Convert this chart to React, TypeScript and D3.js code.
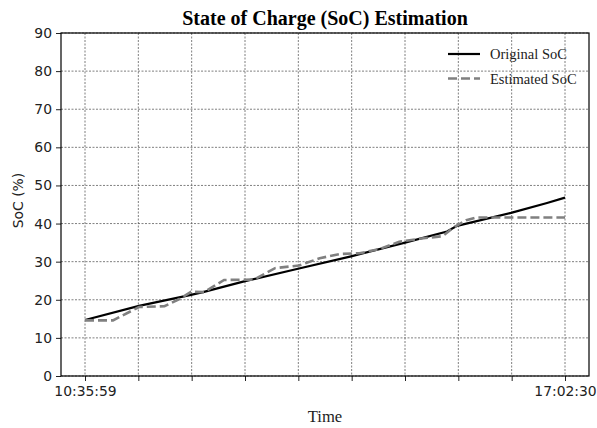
import React, { useEffect, useRef } from 'react';
import * as d3 from 'd3';

const day = '2024-01-01T';
const startTime = '10:35:59';
const endTime = '17:02:30';

// original SoC readings (time, %)
const originalTimes = ['10:35:59', '11:19:28', '12:01:21', '12:11:01', '12:44:50', '13:28:19', '14:10:12', '14:53:41', '15:27:31', '15:35:34', '16:19:03', '16:48:02', '17:02:30'];
const originalSoc = [14.7, 18.4, 21.3, 22.0, 24.9, 28.2, 31.4, 35.0, 37.9, 39.4, 42.8, 45.4, 46.8];

// estimated SoC (time, %)
const estimatedTimes = ['10:35:59', '10:58:32', '11:19:28', '11:40:00', '11:52:00', '12:01:21', '12:12:00', '12:28:00', '12:52:00', '13:09:00', '13:28:19', '13:45:00', '14:01:00', '14:17:00', '14:33:00', '14:49:00', '15:05:00', '15:24:00', '15:32:00', '15:43:00', '15:51:00', '17:02:30'];
const estimatedSoc = [14.6, 14.6, 18.1, 18.3, 20.2, 22.1, 22.0, 25.2, 25.3, 28.3, 29.0, 30.9, 32.0, 32.2, 33.3, 35.2, 36.0, 36.7, 38.8, 40.9, 41.6, 41.6];

const yTicks = [0, 10, 20, 30, 40, 50, 60, 70, 80, 90];
const xTickCount = 10;

const parse = (s: string) => new Date(day + s);

export default function App() {
  const ref = useRef<SVGSVGElement>(null);

  useEffect(() => {
    const width = 597;
    const height = 428;
    const margin = { top: 33, left: 61, bottom: 52, right: 8 };
    const iwidth = width - margin.left - margin.right;
    const iheight = height - margin.top - margin.bottom;

    const svg = d3.select(ref.current);
    svg.selectAll('*').remove();
    svg.attr('width', width).attr('height', height);

    const t0 = parse(startTime).getTime();
    const t1 = parse(endTime).getTime();
    const pad = (t1 - t0) * 0.05;

    const x = d3.scaleTime().domain([new Date(t0 - pad), new Date(t1 + pad)]).range([0, iwidth]);
    const y = d3.scaleLinear().domain([0, 90]).range([iheight, 0]);

    const xTicks = d3.range(xTickCount).map((i) => new Date(t0 + (i * (t1 - t0)) / (xTickCount - 1)));

    const g = svg.append('g').attr('transform', `translate(${margin.left},${margin.top})`);

    // grid
    g.append('g')
      .selectAll('line')
      .data(yTicks)
      .enter()
      .append('line')
      .attr('x1', 0)
      .attr('x2', iwidth)
      .attr('y1', (d) => y(d))
      .attr('y2', (d) => y(d))
      .attr('stroke', '#5e5e5e')
      .attr('stroke-width', 0.8)
      .attr('stroke-dasharray', '2,1.5');
    g.append('g')
      .selectAll('line')
      .data(xTicks)
      .enter()
      .append('line')
      .attr('x1', (d) => x(d))
      .attr('x2', (d) => x(d))
      .attr('y1', 0)
      .attr('y2', iheight)
      .attr('stroke', '#5e5e5e')
      .attr('stroke-width', 0.8)
      .attr('stroke-dasharray', '2,1.5');

    // lines
    const line = d3
      .line<[Date, number]>()
      .x((d) => x(d[0]))
      .y((d) => y(d[1]));

    const est: [Date, number][] = estimatedTimes.map((t, i) => [parse(t), estimatedSoc[i]]);
    const orig: [Date, number][] = originalTimes.map((t, i) => [parse(t), originalSoc[i]]);

    g.append('path')
      .datum(orig)
      .attr('d', line)
      .attr('fill', 'none')
      .attr('stroke', 'black')
      .attr('stroke-width', 2.2);

    g.append('path')
      .datum(est)
      .attr('d', line)
      .attr('fill', 'none')
      .attr('stroke', 'gray')
      .attr('stroke-width', 2.6)
      .attr('stroke-dasharray', '9,4');

    // axes
    const yAxis = g
      .append('g')
      .call(d3.axisLeft(y).tickValues(yTicks).tickSize(5).tickPadding(4).tickFormat(d3.format('d')));
    const xAxis = g
      .append('g')
      .attr('transform', `translate(0,${iheight})`)
      .call(
        d3
          .axisBottom(x)
          .tickValues(xTicks)
          .tickSize(5)
          .tickPadding(5)
          .tickFormat((d, i) => (i === 0 || i === xTickCount - 1 ? d3.timeFormat('%H:%M:%S')(d as Date) : ''))
      );
    [yAxis, xAxis].forEach((a) => {
      a.select('.domain').remove();
      a.selectAll('text').attr('font-family', 'DejaVu Sans').attr('font-size', 13.9).attr('fill', '#222');
      a.selectAll('line').attr('stroke', '#222');
    });

    g.append('rect')
      .attr('width', iwidth)
      .attr('height', iheight)
      .attr('fill', 'none')
      .attr('stroke', 'black')
      .attr('stroke-width', 1.2);

    // legend
    const legend = g.append('g').attr('transform', `translate(${448 - margin.left},${54 - margin.top})`);
    const items = [
      { name: 'Original SoC', color: 'black', dash: null, w: 2.2 },
      { name: 'Estimated SoC', color: 'gray', dash: '9,4', w: 2.6 },
    ];
    items.forEach((it, i) => {
      const row = legend.append('g').attr('transform', `translate(0,${i * 24.5})`);
      row
        .append('line')
        .attr('x1', 0)
        .attr('x2', 32)
        .attr('stroke', it.color)
        .attr('stroke-width', it.w)
        .attr('stroke-dasharray', it.dash);
      row
        .append('text')
        .attr('x', 42)
        .attr('y', 5)
        .attr('font-family', 'Liberation Serif')
        .attr('font-size', 14.5)
        .attr('fill', '#222')
        .text(it.name);
    });

    // titles
    svg
      .append('text')
      .attr('x', margin.left + iwidth / 2)
      .attr('y', 25)
      .attr('text-anchor', 'middle')
      .attr('font-family', 'Liberation Serif')
      .attr('font-weight', 'bold')
      .attr('font-size', 20)
      .text('State of Charge (SoC) Estimation');

    svg
      .append('text')
      .attr('x', margin.left + iwidth / 2)
      .attr('y', 422)
      .attr('text-anchor', 'middle')
      .attr('font-family', 'Liberation Serif')
      .attr('font-size', 16.6)
      .attr('fill', '#222')
      .text('Time');

    svg
      .append('text')
      .attr('transform', `translate(23,200.5) rotate(-90)`)
      .attr('text-anchor', 'middle')
      .attr('font-family', 'DejaVu Sans')
      .attr('font-size', 13.9)
      .attr('fill', '#222')
      .text('SoC (%)');
  });

  return (
    <div style={{ position: 'absolute', left: 0, top: 0 }}>
      <svg ref={ref}></svg>
    </div>
  );
}
